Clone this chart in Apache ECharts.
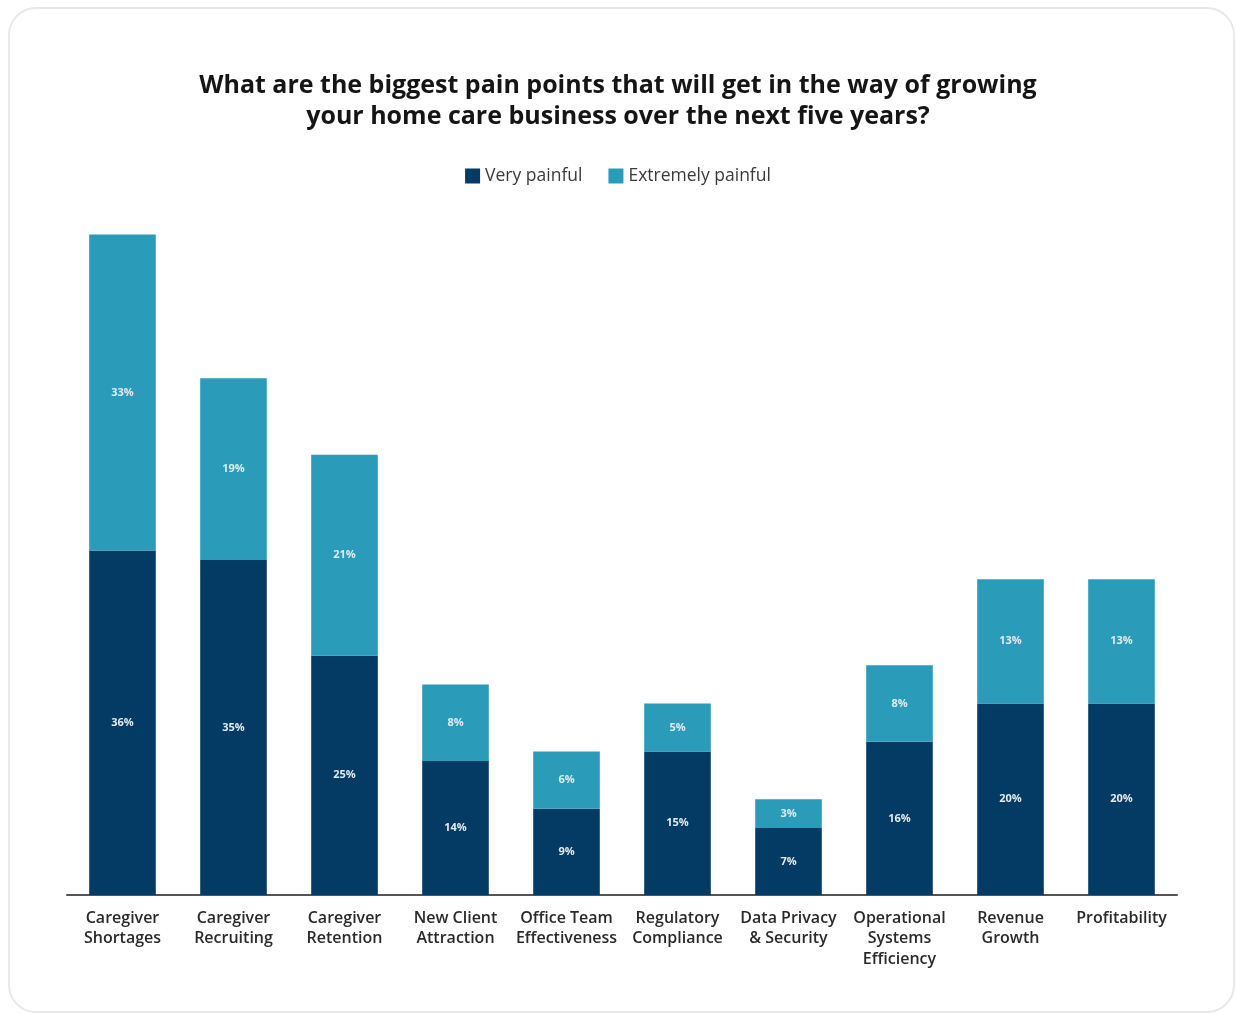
<!DOCTYPE html>
<html>
<head>
<meta charset="utf-8">
<script src="https://cdn.jsdelivr.net/npm/echarts@6/dist/echarts.min.js"></script>
<style>
  html, body { margin: 0; padding: 0; background: #fff; }
  #card {
    position: absolute; left: 8px; top: 7px; width: 1227px; height: 1006px;
    border: 2px solid #e8e8e8; border-radius: 28px; box-sizing: border-box;
  }
  #main { position: absolute; left: 0; top: 0; width: 1236px; height: 1014px; }
</style>
</head>
<body>
<div id="card"></div>
<div id="main"></div>
<script>
  // categories + the two stacked series (percent of respondents)
  var categories = [
    'Caregiver\nShortages', 'Caregiver\nRecruiting', 'Caregiver\nRetention',
    'New Client\nAttraction', 'Office Team\nEffectiveness', 'Regulatory\nCompliance',
    'Data Privacy\n& Security', 'Operational\nSystems\nEfficiency', 'Revenue\nGrowth', 'Profitability'
  ];
  var veryPainful = [36, 35, 25, 14, 9, 15, 7, 16, 20, 20];
  var extremelyPainful = [33, 19, 21, 8, 6, 5, 3, 8, 13, 13];

  var chart = echarts.init(document.getElementById('main'));

  var segLabel = {
    show: true,
    position: 'inside',
    formatter: '{c}%',
    color: '#e4eaf0',
    fontSize: 11,
    fontWeight: 'bold',
    fontFamily: 'Open Sans'
  };

  chart.setOption({
    animation: false,
    title: {
      text: 'What are the biggest pain points that will get in the way of growing\nyour home care business over the next five years?',
      left: 'center',
      top: 65,
      textStyle: {
        fontFamily: 'Open Sans',
        fontSize: 25,
        fontWeight: 'bold',
        color: '#151515',
        lineHeight: 31
      }
    },
    legend: {
      top: 162,
      left: 'center',
      itemWidth: 15,
      itemHeight: 15,
      itemGap: 26,
      icon: 'rect',
      textStyle: { fontFamily: 'Open Sans', fontSize: 17.5, color: '#3a3a3a' },
      data: ['Very painful', 'Extremely painful']
    },
    grid: { left: 67, right: 59, top: 225, bottom: 119 },
    xAxis: {
      type: 'category',
      data: categories,
      axisLine: { lineStyle: { color: '#555', width: 2 } },
      axisTick: { show: false },
      axisLabel: {
        interval: 0,
        margin: 13,
        fontFamily: 'Open Sans',
        fontSize: 16,
        fontWeight: 600,
        color: '#2a2a2a',
        lineHeight: 20.5
      }
    },
    yAxis: {
      type: 'value',
      min: 0,
      max: 70,
      show: false,
      splitLine: { show: false }
    },
    series: [
      {
        name: 'Very painful',
        type: 'bar',
        stack: 'total',
        barWidth: '60%',
        itemStyle: { color: '#033b64' },
        label: segLabel,
        data: veryPainful
      },
      {
        name: 'Extremely painful',
        type: 'bar',
        stack: 'total',
        barWidth: '60%',
        itemStyle: { color: '#2a9cb9' },
        label: segLabel,
        data: extremelyPainful
      }
    ]
  });
</script>
</body>
</html>
